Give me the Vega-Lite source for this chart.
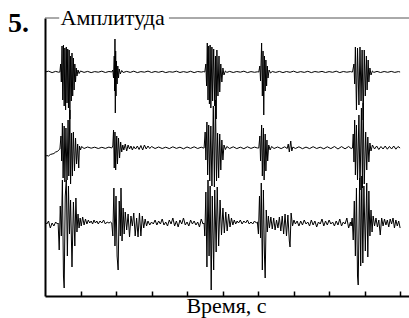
{
  "$schema": "https://vega.github.io/schema/vega-lite/v6.json",
  "width": 364,
  "height": 278,
  "autosize": {"type": "none"},
  "padding": {"left": 45, "top": 18, "right": 0, "bottom": 22},
  "background": "white",
  "config": {"view": {"stroke": null}},
  "title": {"text": "5.", "anchor": "start", "frame": "group", "orient": "top", "font": "Liberation Serif, Times New Roman, DejaVu Serif, serif", "fontSize": 28, "fontWeight": "bold", "color": "black", "offset": 0, "dx": -37, "dy": 54, "baseline": "alphabetic"},
  "datasets": {
    "frame": [{"a": 0, "b": 0.4}, {"a": 3.49, "b": 10.25}],
    "trace1": [
      {"t":0.00,"v":224},{"t":0.10,"v":224.8},{"t":0.20,"v":223.4},{"t":0.30,"v":224.6},{"t":0.38,"v":223.8},
      {"t":0.42,"v":224},{"t":0.44,"v":232},{"t":0.46,"v":214},{"t":0.48,"v":250},{"t":0.50,"v":196},{"t":0.52,"v":251},{"t":0.54,"v":190},{"t":0.56,"v":248},{"t":0.58,"v":186},{"t":0.60,"v":249},{"t":0.62,"v":193},{"t":0.64,"v":247},{"t":0.66,"v":188},{"t":0.68,"v":246},{"t":0.70,"v":177},{"t":0.72,"v":240},{"t":0.74,"v":195},{"t":0.76,"v":243},{"t":0.78,"v":200},{"t":0.80,"v":238},{"t":0.82,"v":206},{"t":0.84,"v":232},{"t":0.86,"v":214},{"t":0.88,"v":228},{"t":0.90,"v":220},{"t":0.93,"v":226},{"t":0.96,"v":222.5},{"t":1.00,"v":225},
      {"t":1.10,"v":223.6},{"t":1.20,"v":224.6},{"t":1.30,"v":223.4},{"t":1.40,"v":224.4},{"t":1.50,"v":223.8},{"t":1.60,"v":224.8},{"t":1.70,"v":223.5},{"t":1.80,"v":224.5},{"t":1.88,"v":224},
      {"t":1.91,"v":226},{"t":1.93,"v":218},{"t":1.95,"v":240},{"t":1.96,"v":205},{"t":1.97,"v":257},{"t":1.98,"v":183},{"t":1.99,"v":245},{"t":2.00,"v":200},{"t":2.01,"v":235},{"t":2.03,"v":212},{"t":2.05,"v":230},{"t":2.07,"v":218},{"t":2.09,"v":227},{"t":2.12,"v":222},{"t":2.16,"v":225.5},{"t":2.20,"v":223.5},
      {"t":2.30,"v":224.6},{"t":2.40,"v":223.6},{"t":2.50,"v":224.8},{"t":2.60,"v":223.4},{"t":2.70,"v":224.4},{"t":2.80,"v":223.8},{"t":2.90,"v":224.9},{"t":3.00,"v":223.5},{"t":3.10,"v":224.5},{"t":3.20,"v":223.7},{"t":3.30,"v":224.7},{"t":3.40,"v":223.4},{"t":3.50,"v":224.3},{"t":3.60,"v":223.8},{"t":3.70,"v":224.8},{"t":3.80,"v":223.5},{"t":3.90,"v":224.4},{"t":4.00,"v":223.6},{"t":4.10,"v":224.7},{"t":4.20,"v":223.4},{"t":4.30,"v":224.5},{"t":4.40,"v":223.9},{"t":4.47,"v":224.4},
      {"t":4.50,"v":224},{"t":4.53,"v":232},{"t":4.55,"v":210},{"t":4.57,"v":253},{"t":4.59,"v":196},{"t":4.61,"v":250},{"t":4.63,"v":192},{"t":4.65,"v":251},{"t":4.67,"v":188},{"t":4.70,"v":249},{"t":4.72,"v":195},{"t":4.75,"v":247},{"t":4.78,"v":190},{"t":4.80,"v":240},{"t":4.82,"v":177},{"t":4.84,"v":246},{"t":4.87,"v":200},{"t":4.90,"v":240},{"t":4.92,"v":204},{"t":4.95,"v":232},{"t":4.98,"v":214},{"t":5.01,"v":228},{"t":5.04,"v":221},{"t":5.08,"v":225},{"t":5.12,"v":223.6},
      {"t":5.20,"v":224.6},{"t":5.30,"v":223.5},{"t":5.40,"v":224.5},{"t":5.50,"v":223.8},{"t":5.60,"v":224.8},{"t":5.70,"v":223.4},{"t":5.80,"v":224.4},{"t":5.90,"v":223.7},{"t":5.98,"v":224.2},
      {"t":6.02,"v":224},{"t":6.05,"v":230},{"t":6.07,"v":215},{"t":6.10,"v":253},{"t":6.12,"v":200},{"t":6.14,"v":245},{"t":6.16,"v":181},{"t":6.18,"v":240},{"t":6.20,"v":205},{"t":6.22,"v":236},{"t":6.24,"v":210},{"t":6.26,"v":230},{"t":6.28,"v":218},{"t":6.31,"v":226},{"t":6.35,"v":223},{"t":6.40,"v":224.5},
      {"t":6.50,"v":223.6},{"t":6.60,"v":224.6},{"t":6.70,"v":223.4},{"t":6.80,"v":224.5},{"t":6.90,"v":223.7},{"t":7.00,"v":224.8},{"t":7.10,"v":223.5},{"t":7.20,"v":224.4},{"t":7.30,"v":223.6},{"t":7.40,"v":224.7},{"t":7.50,"v":223.4},{"t":7.60,"v":224.5},{"t":7.70,"v":223.8},{"t":7.80,"v":224.6},{"t":7.90,"v":223.5},{"t":8.00,"v":224.4},{"t":8.10,"v":223.7},{"t":8.20,"v":224.8},{"t":8.30,"v":223.4},{"t":8.40,"v":224.5},{"t":8.50,"v":223.8},{"t":8.60,"v":224.4},{"t":8.64,"v":224},
      {"t":8.66,"v":224},{"t":8.70,"v":232},{"t":8.72,"v":212},{"t":8.74,"v":249},{"t":8.77,"v":186},{"t":8.80,"v":248},{"t":8.84,"v":191},{"t":8.87,"v":249},{"t":8.90,"v":195},{"t":8.93,"v":246},{"t":8.96,"v":176},{"t":8.99,"v":246},{"t":9.02,"v":200},{"t":9.05,"v":240},{"t":9.07,"v":206},{"t":9.10,"v":236},{"t":9.12,"v":214},{"t":9.15,"v":228},{"t":9.18,"v":221},{"t":9.22,"v":225},{"t":9.26,"v":223.6},
      {"t":9.35,"v":224.6},{"t":9.45,"v":223.5},{"t":9.55,"v":224.5},{"t":9.65,"v":223.7},{"t":9.75,"v":224.6},{"t":9.85,"v":223.6},{"t":9.95,"v":224.4},{"t":10.00,"v":224}
    ],
    "trace2": [
      {"t":0.00,"v":139},{"t":0.05,"v":140.5},{"t":0.10,"v":140},{"t":0.15,"v":141.5},{"t":0.20,"v":142},{"t":0.25,"v":142.5},{"t":0.30,"v":144},{"t":0.35,"v":144.5},{"t":0.40,"v":146.5},
      {"t":0.42,"v":147},{"t":0.45,"v":160},{"t":0.47,"v":135},{"t":0.49,"v":173},{"t":0.51,"v":118},{"t":0.54,"v":170},{"t":0.56,"v":114},{"t":0.59,"v":168},{"t":0.62,"v":116},{"t":0.65,"v":176},{"t":0.67,"v":120},{"t":0.70,"v":186},{"t":0.72,"v":112},{"t":0.75,"v":163},{"t":0.77,"v":120},{"t":0.80,"v":164},{"t":0.83,"v":125},{"t":0.86,"v":158},{"t":0.89,"v":132},{"t":0.92,"v":152},{"t":0.95,"v":128},{"t":0.97,"v":150},{"t":1.00,"v":146},{"t":1.03,"v":149.5},
      {"t":1.10,"v":147.5},{"t":1.20,"v":149},{"t":1.30,"v":147.8},{"t":1.40,"v":148.8},{"t":1.50,"v":147.5},{"t":1.60,"v":148.7},{"t":1.70,"v":147.6},{"t":1.80,"v":148.9},{"t":1.88,"v":148},
      {"t":1.91,"v":150},{"t":1.93,"v":166},{"t":1.95,"v":128},{"t":1.97,"v":164},{"t":1.99,"v":126},{"t":2.02,"v":160},{"t":2.04,"v":132},{"t":2.07,"v":158},{"t":2.10,"v":138},{"t":2.13,"v":154},{"t":2.16,"v":144},{"t":2.19,"v":151},
      {"t":2.22,"v":146},{"t":2.26,"v":152},{"t":2.30,"v":145},{"t":2.34,"v":151},{"t":2.38,"v":147},{"t":2.42,"v":150},{"t":2.46,"v":146},{"t":2.50,"v":149.5},{"t":2.55,"v":147},{"t":2.60,"v":150},{"t":2.65,"v":146.5},{"t":2.70,"v":150.5},{"t":2.75,"v":146},{"t":2.80,"v":151},{"t":2.85,"v":147},{"t":2.90,"v":150},{"t":2.95,"v":147.5},{"t":3.00,"v":149.5},{"t":3.10,"v":147.5},{"t":3.20,"v":149},{"t":3.30,"v":147.5},{"t":3.40,"v":148.8},{"t":3.50,"v":147.4},{"t":3.60,"v":149.2},{"t":3.70,"v":147.6},{"t":3.80,"v":148.8},{"t":3.90,"v":147.2},{"t":4.00,"v":149},{"t":4.10,"v":147.6},{"t":4.20,"v":149.2},{"t":4.30,"v":147.5},{"t":4.40,"v":148.8},{"t":4.46,"v":148},
      {"t":4.48,"v":148},{"t":4.51,"v":164},{"t":4.53,"v":136},{"t":4.56,"v":174},{"t":4.58,"v":121},{"t":4.61,"v":171},{"t":4.64,"v":115},{"t":4.67,"v":170},{"t":4.70,"v":110},{"t":4.74,"v":190},{"t":4.77,"v":109},{"t":4.80,"v":196},{"t":4.83,"v":115},{"t":4.86,"v":163},{"t":4.89,"v":118},{"t":4.92,"v":162},{"t":4.95,"v":126},{"t":4.98,"v":156},{"t":5.01,"v":136},{"t":5.04,"v":151},{"t":5.08,"v":146.5},{"t":5.12,"v":149.5},
      {"t":5.20,"v":147.5},{"t":5.30,"v":149.2},{"t":5.40,"v":147.4},{"t":5.50,"v":148.8},{"t":5.60,"v":147.3},{"t":5.70,"v":149.2},{"t":5.80,"v":147.6},{"t":5.90,"v":148.9},{"t":5.98,"v":148},
      {"t":6.02,"v":148},{"t":6.05,"v":160},{"t":6.07,"v":135},{"t":6.10,"v":171},{"t":6.12,"v":120},{"t":6.15,"v":168},{"t":6.17,"v":116},{"t":6.20,"v":162},{"t":6.22,"v":125},{"t":6.25,"v":156},{"t":6.27,"v":135},{"t":6.30,"v":151},{"t":6.34,"v":146},{"t":6.38,"v":149.5},
      {"t":6.45,"v":147.5},{"t":6.55,"v":149},{"t":6.65,"v":147.4},{"t":6.75,"v":149.2},{"t":6.82,"v":147.5},{"t":6.85,"v":152},{"t":6.88,"v":144},{"t":6.92,"v":155},{"t":6.95,"v":145},{"t":6.98,"v":149},{"t":7.05,"v":147.5},{"t":7.15,"v":149.2},{"t":7.25,"v":147.3},{"t":7.35,"v":148.9},{"t":7.45,"v":147.4},{"t":7.55,"v":149.3},{"t":7.65,"v":147.5},{"t":7.75,"v":148.8},{"t":7.85,"v":147.2},{"t":7.95,"v":149.2},{"t":8.05,"v":147.4},{"t":8.15,"v":149.5},{"t":8.25,"v":147},{"t":8.35,"v":149.4},{"t":8.45,"v":147.2},{"t":8.55,"v":149.5},{"t":8.62,"v":147.5},
      {"t":8.66,"v":148},{"t":8.68,"v":162},{"t":8.70,"v":134},{"t":8.72,"v":176},{"t":8.74,"v":121},{"t":8.77,"v":171},{"t":8.80,"v":116},{"t":8.84,"v":181},{"t":8.87,"v":106},{"t":8.91,"v":188},{"t":8.94,"v":108},{"t":8.96,"v":193},{"t":8.99,"v":112},{"t":9.03,"v":164},{"t":9.06,"v":126},{"t":9.09,"v":159},{"t":9.12,"v":134},{"t":9.15,"v":153},{"t":9.18,"v":145},{"t":9.22,"v":151},
      {"t":9.28,"v":147},{"t":9.34,"v":150},{"t":9.40,"v":146.5},{"t":9.46,"v":149.5},{"t":9.52,"v":147},{"t":9.58,"v":150},{"t":9.64,"v":146.8},{"t":9.70,"v":149.6},{"t":9.76,"v":147},{"t":9.82,"v":150},{"t":9.88,"v":146.8},{"t":9.94,"v":149.5},{"t":10.00,"v":148}
    ],
    "trace3": [
      {"t":0.00,"v":74},{"t":0.05,"v":72},{"t":0.10,"v":75},{"t":0.15,"v":68},{"t":0.20,"v":73},{"t":0.25,"v":70},{"t":0.30,"v":74},{"t":0.35,"v":72},
      {"t":0.37,"v":73},{"t":0.40,"v":46},{"t":0.43,"v":90},{"t":0.46,"v":60},{"t":0.49,"v":116},{"t":0.52,"v":20},{"t":0.54,"v":8},{"t":0.57,"v":100},{"t":0.60,"v":116},{"t":0.63,"v":40},{"t":0.66,"v":110},{"t":0.69,"v":62},{"t":0.72,"v":96},{"t":0.76,"v":29},{"t":0.80,"v":94},{"t":0.84,"v":50},{"t":0.87,"v":98},{"t":0.90,"v":64},{"t":0.93,"v":82},{"t":0.96,"v":68},{"t":0.99,"v":78},
      {"t":1.02,"v":70},{"t":1.06,"v":79},{"t":1.10,"v":71},{"t":1.14,"v":77},{"t":1.18,"v":72},{"t":1.22,"v":76},{"t":1.26,"v":73},{"t":1.30,"v":75},{"t":1.34,"v":72},{"t":1.38,"v":76},{"t":1.42,"v":73},{"t":1.46,"v":75},{"t":1.50,"v":72},{"t":1.55,"v":75},{"t":1.60,"v":73},{"t":1.65,"v":76},{"t":1.70,"v":72},{"t":1.75,"v":74},{"t":1.80,"v":73},{"t":1.85,"v":74},
      {"t":1.88,"v":73},{"t":1.91,"v":60},{"t":1.94,"v":108},{"t":1.97,"v":50},{"t":2.00,"v":100},{"t":2.03,"v":40},{"t":2.06,"v":26},{"t":2.09,"v":95},{"t":2.12,"v":60},{"t":2.14,"v":108},{"t":2.17,"v":55},{"t":2.20,"v":88},{"t":2.23,"v":62},
      {"t":2.26,"v":84},{"t":2.30,"v":66},{"t":2.34,"v":82},{"t":2.38,"v":59},{"t":2.42,"v":80},{"t":2.46,"v":70},{"t":2.50,"v":83},{"t":2.54,"v":60},{"t":2.58,"v":78},{"t":2.62,"v":59},{"t":2.66,"v":83},{"t":2.70,"v":60},{"t":2.74,"v":80},{"t":2.78,"v":68},{"t":2.82,"v":77},{"t":2.86,"v":70},{"t":2.90,"v":75},{"t":2.95,"v":71},{"t":3.00,"v":74},
      {"t":3.05,"v":72},{"t":3.10,"v":76},{"t":3.15,"v":71},{"t":3.20,"v":75},{"t":3.25,"v":72},{"t":3.30,"v":77},{"t":3.35,"v":71},{"t":3.40,"v":74},{"t":3.45,"v":70},{"t":3.50,"v":76},{"t":3.55,"v":72},{"t":3.60,"v":78},{"t":3.65,"v":70},{"t":3.70,"v":75},{"t":3.75,"v":69},{"t":3.80,"v":76},{"t":3.85,"v":72},{"t":3.90,"v":78},{"t":3.95,"v":71},{"t":4.00,"v":74},{"t":4.05,"v":70},{"t":4.10,"v":76},{"t":4.15,"v":72},{"t":4.20,"v":75},{"t":4.25,"v":71},{"t":4.30,"v":74},{"t":4.35,"v":69},{"t":4.40,"v":77},{"t":4.45,"v":72},
      {"t":4.48,"v":73},{"t":4.50,"v":60},{"t":4.53,"v":104},{"t":4.56,"v":29},{"t":4.59,"v":116},{"t":4.62,"v":40},{"t":4.65,"v":110},{"t":4.68,"v":6},{"t":4.71,"v":100},{"t":4.75,"v":26},{"t":4.78,"v":106},{"t":4.82,"v":44},{"t":4.85,"v":109},{"t":4.89,"v":50},{"t":4.93,"v":96},{"t":4.97,"v":61},{"t":5.01,"v":88},{"t":5.05,"v":63},{"t":5.09,"v":84},{"t":5.13,"v":65},{"t":5.17,"v":82},{"t":5.21,"v":69},
      {"t":5.25,"v":78},{"t":5.29,"v":71},{"t":5.33,"v":76},{"t":5.37,"v":72},{"t":5.41,"v":75},{"t":5.45,"v":73},{"t":5.50,"v":76},{"t":5.55,"v":72},{"t":5.60,"v":75},{"t":5.65,"v":73},{"t":5.70,"v":76},{"t":5.75,"v":72},{"t":5.80,"v":74},{"t":5.85,"v":72},{"t":5.90,"v":75},{"t":5.95,"v":73},{"t":5.98,"v":74},
      {"t":6.01,"v":62},{"t":6.04,"v":100},{"t":6.07,"v":58},{"t":6.09,"v":113},{"t":6.12,"v":26},{"t":6.15,"v":106},{"t":6.18,"v":40},{"t":6.20,"v":18},{"t":6.23,"v":86},{"t":6.26,"v":64},{"t":6.29,"v":80},{"t":6.32,"v":68},
      {"t":6.36,"v":79},{"t":6.40,"v":67},{"t":6.44,"v":78},{"t":6.48,"v":66},{"t":6.52,"v":76},{"t":6.56,"v":68},{"t":6.60,"v":79},{"t":6.64,"v":65},{"t":6.68,"v":80},{"t":6.72,"v":62},{"t":6.76,"v":82},{"t":6.80,"v":60},{"t":6.84,"v":81},{"t":6.88,"v":55},{"t":6.90,"v":49},{"t":6.93,"v":83},{"t":6.97,"v":70},{"t":7.01,"v":76},{"t":7.05,"v":72},
      {"t":7.10,"v":75},{"t":7.15,"v":70},{"t":7.20,"v":75},{"t":7.25,"v":71},{"t":7.30,"v":76},{"t":7.35,"v":72},{"t":7.40,"v":74},{"t":7.45,"v":70},{"t":7.50,"v":76},{"t":7.55,"v":71},{"t":7.60,"v":75},{"t":7.65,"v":69},{"t":7.70,"v":74},{"t":7.75,"v":72},{"t":7.80,"v":77},{"t":7.85,"v":70},{"t":7.90,"v":75},{"t":7.95,"v":71},{"t":8.00,"v":76},{"t":8.05,"v":72},{"t":8.10,"v":74},{"t":8.15,"v":70},{"t":8.20,"v":75},{"t":8.25,"v":71},{"t":8.30,"v":77},{"t":8.35,"v":70},{"t":8.40,"v":74},{"t":8.45,"v":72},{"t":8.50,"v":78},{"t":8.55,"v":68},{"t":8.60,"v":74},
      {"t":8.62,"v":70},{"t":8.65,"v":78},{"t":8.68,"v":56},{"t":8.71,"v":95},{"t":8.74,"v":40},{"t":8.77,"v":108},{"t":8.80,"v":20},{"t":8.82,"v":11},{"t":8.86,"v":118},{"t":8.89,"v":30},{"t":8.92,"v":120},{"t":8.95,"v":33},{"t":8.98,"v":110},{"t":9.02,"v":45},{"t":9.06,"v":113},{"t":9.09,"v":39},{"t":9.12,"v":105},{"t":9.15,"v":60},{"t":9.18,"v":86},{"t":9.21,"v":64},{"t":9.24,"v":80},
      {"t":9.28,"v":70},{"t":9.32,"v":78},{"t":9.36,"v":69},{"t":9.40,"v":76},{"t":9.44,"v":61},{"t":9.48,"v":78},{"t":9.52,"v":70},{"t":9.56,"v":77},{"t":9.60,"v":71},{"t":9.64,"v":76},{"t":9.68,"v":69},{"t":9.72,"v":77},{"t":9.76,"v":72},{"t":9.80,"v":78},{"t":9.84,"v":68},{"t":9.88,"v":76},{"t":9.92,"v":70},{"t":9.96,"v":75},{"t":10.00,"v":68}
    ]
  },
  "layer": [
    {
      "data": {"name": "frame"},
      "mark": {"type": "rule", "color": "#555555", "strokeWidth": 1},
      "encoding": {
        "x": {"field": "a", "type": "quantitative", "scale": {"domain": [0, 10.25], "nice": false, "zero": false}},
        "x2": {"field": "b"},
        "y": {"datum": 278, "type": "quantitative", "scale": {"domain": [0, 278], "nice": false, "zero": false}}
      }
    },
    {
      "data": {"name": "trace1"},
      "mark": {"type": "line", "color": "black", "strokeWidth": 1},
      "encoding": {
        "x": {"field": "t", "type": "quantitative"},
        "y": {"field": "v", "type": "quantitative"}
      }
    },
    {
      "data": {"name": "trace2"},
      "mark": {"type": "line", "color": "black", "strokeWidth": 1},
      "encoding": {
        "x": {"field": "t", "type": "quantitative"},
        "y": {"field": "v", "type": "quantitative"}
      }
    },
    {
      "data": {"name": "trace3"},
      "mark": {"type": "line", "color": "black", "strokeWidth": 1},
      "encoding": {
        "x": {"field": "t", "type": "quantitative", "axis": {"title": "Время, с", "values": [1,2,3,4,5,6,7,8,9,10], "labels": false, "grid": false, "domainColor": "black", "domainWidth": 2, "tickColor": "black", "tickWidth": 1.5, "tickSize": -5, "titleFont": "Liberation Serif, Times New Roman, DejaVu Serif, serif", "titleFontSize": 22, "titleFontWeight": "normal", "titleColor": "black", "titleAlign": "center", "titleBaseline": "alphabetic", "titleX": 181, "titleY": 16}},
        "y": {"field": "v", "type": "quantitative", "axis": {"title": "Амплитуда", "labels": false, "ticks": false, "grid": false, "domainColor": "black", "domainWidth": 2, "titleFont": "Liberation Serif, Times New Roman, DejaVu Serif, serif", "titleFontSize": 22, "titleFontWeight": "normal", "titleColor": "black", "titleAngle": 0, "titleAlign": "left", "titleBaseline": "alphabetic", "titleX": 15, "titleY": 6}}
      }
    }
  ]
}
